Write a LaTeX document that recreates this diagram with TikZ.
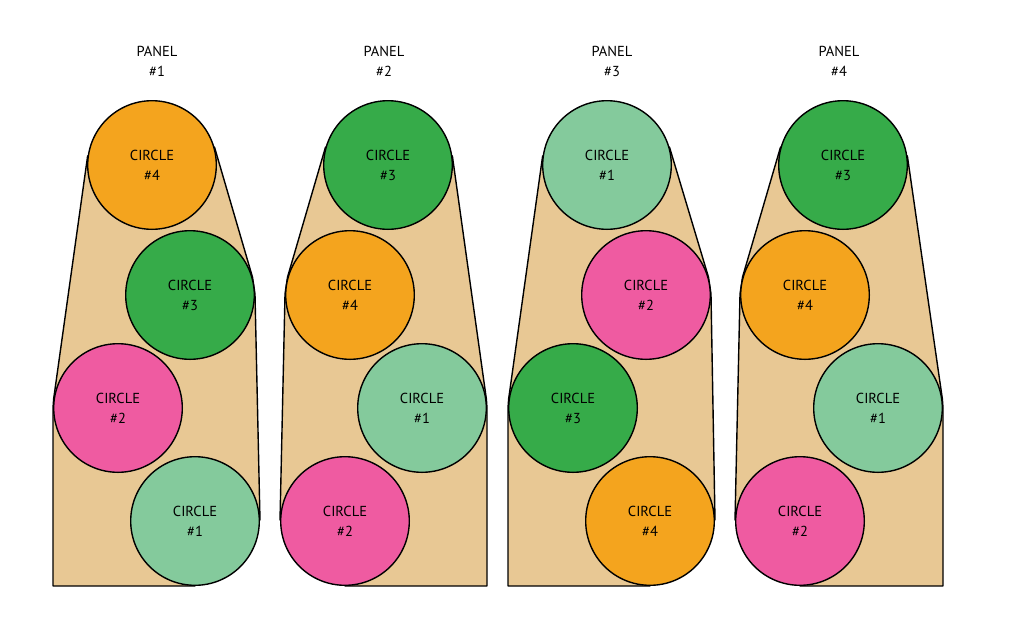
\documentclass[tikz,border=0pt]{standalone}
\usepackage{fontspec}
\setmainfont{PT Sans}
\usetikzlibrary{backgrounds}
\definecolor{Amber}{RGB}{244,164,30}
\definecolor{Leaf}{RGB}{54,171,73}
\definecolor{Mint}{RGB}{132,202,156}
\definecolor{Rose}{RGB}{239,91,161}
\definecolor{PanelTan}{RGB}{232,200,148}
\tikzset{
  disc/.style={circle,draw=black,line width=1.4pt,minimum size=128.6pt,
    inner sep=0pt,align=center,font=\fontsize{14.5}{20}\selectfont},
  amber/.style={disc,fill=Amber},
  leaf/.style={disc,fill=Leaf},
  mint/.style={disc,fill=Mint},
  rose/.style={disc,fill=Rose},
  title/.style={align=center,font=\fontsize{14.5}{20}\selectfont},
  panel/.style={draw=black,line width=1.4pt,fill=PanelTan,line join=round}
}

\begin{document}
\begin{tikzpicture}[x=1pt,y=-1pt]
  \useasboundingbox (0,0) rectangle (1017,627);
  % panel 1
  \node[title] (t1) at (157,61) {PANEL\\\#1};
  \node[amber] (p1c4) at (152,165) {CIRCLE\\\#4};
  \node[leaf]  (p1c3) at (190,295) {CIRCLE\\\#3};
  \node[rose]  (p1c2) at (118,408) {CIRCLE\\\#2};
  \node[mint]  (p1c1) at (195,521) {CIRCLE\\\#1};
  % panel 2
  \node[title] (t2) at (384,61) {PANEL\\\#2};
  \node[leaf]  (p2c3) at (388,165) {CIRCLE\\\#3};
  \node[amber] (p2c4) at (350,295) {CIRCLE\\\#4};
  \node[mint]  (p2c1) at (422,408) {CIRCLE\\\#1};
  \node[rose]  (p2c2) at (345,521) {CIRCLE\\\#2};
  % panel 3
  \node[title] (t3) at (612,61) {PANEL\\\#3};
  \node[mint]  (p3c1) at (607,165) {CIRCLE\\\#1};
  \node[rose]  (p3c2) at (646,295) {CIRCLE\\\#2};
  \node[leaf]  (p3c3) at (573,408) {CIRCLE\\\#3};
  \node[amber] (p3c4) at (650,521) {CIRCLE\\\#4};
  % panel 4
  \node[title] (t4) at (839,61) {PANEL\\\#4};
  \node[leaf]  (p4c3) at (843,165) {CIRCLE\\\#3};
  \node[amber] (p4c4) at (805,295) {CIRCLE\\\#4};
  \node[mint]  (p4c1) at (878,408) {CIRCLE\\\#1};
  \node[rose]  (p4c2) at (800,521) {CIRCLE\\\#2};
  % tan outlines behind the circles
  \begin{scope}[on background layer]
    \draw[panel] (p1c2.west |- p1c1.south) -- (p1c2.west) -- (p1c2.172)
      -- (p1c4.172) -- (p1c4.16) -- (p1c3.16) -- (p1c3.1) -- (p1c1.1)
      -- (p1c1.center) -- (p1c1.south) -- cycle;
    \draw[panel] (p2c3.164) -- (p2c4.164) -- (p2c4.179) -- (p2c2.179)
      -- (p2c2.center) -- (p2c2.south) -- (p2c1.east |- p2c2.south)
      -- (p2c1.east) -- (p2c1.8) -- (p2c3.8) -- cycle;
    \draw[panel] (p3c3.west |- p3c4.south) -- (p3c3.west) -- (p3c3.172)
      -- (p3c1.172) -- (p3c1.16) -- (p3c2.16) -- (p3c2.1) -- (p3c4.1)
      -- (p3c4.center) -- (p3c4.south) -- cycle;
    \draw[panel] (p4c3.164) -- (p4c4.164) -- (p4c4.179) -- (p4c2.179)
      -- (p4c2.center) -- (p4c2.south) -- (p4c1.east |- p4c2.south)
      -- (p4c1.east) -- (p4c1.8) -- (p4c3.8) -- cycle;
  \end{scope}
\end{tikzpicture}
\end{document}
